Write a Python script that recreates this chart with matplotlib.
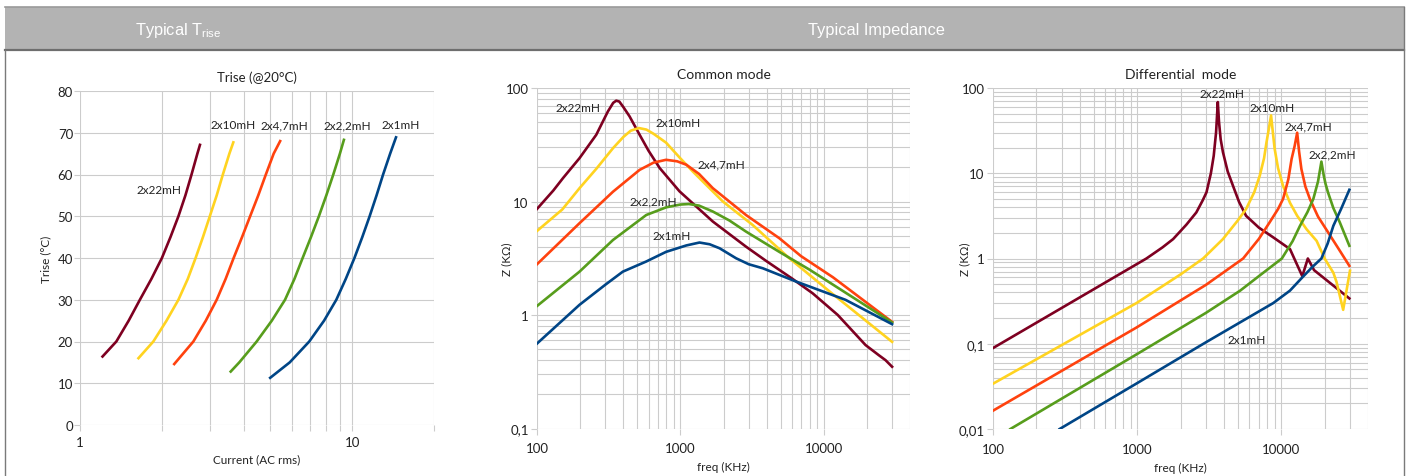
import matplotlib
matplotlib.use("Agg")
import matplotlib.pyplot as plt
from matplotlib import font_manager
from matplotlib.patches import Rectangle
from matplotlib.lines import Line2D
from matplotlib.ticker import FixedLocator, NullFormatter

W, H = 1406, 477

avail = {f.name for f in font_manager.fontManager.ttflist}
def pick(names):
    for n in names:
        if n in avail:
            return n
    return "DejaVu Sans"
BODY = pick(["Lato", "Open Sans", "Noto Sans", "DejaVu Sans"])
if "Liberation Sans Narrow" in avail:
    HEAD, HEAD_SIZE = "Liberation Sans Narrow", 13.5
else:
    HEAD, HEAD_SIZE = pick(["Liberation Sans", "Roboto", "DejaVu Sans"]), 11.8
plt.rcParams['font.family'] = [BODY, 'DejaVu Sans']

# ---------------- data ----------------
series_names = ["2x22mH", "2x10mH", "2x4,7mH", "2x2,2mH", "2x1mH"]
colors = ["#7e0021", "#ffd320", "#ff420e", "#579d1c", "#004586"]

# Trise (°C) vs current (A rms)
trise_i_22 = [1.21, 1.36, 1.51, 1.66, 1.83, 2.0, 2.15, 2.30, 2.44, 2.57, 2.70, 2.76]
trise_t_22 = [16.4, 20, 25, 30, 35, 40, 45, 50, 55, 60, 65, 67.1]
trise_i_10 = [1.64, 1.86, 2.08, 2.30, 2.49, 2.66, 2.83, 3.0, 3.18, 3.35, 3.54, 3.66]
trise_t_10 = [16.0, 20, 25, 30, 35, 40, 45, 50, 55, 60, 65, 67.7]
trise_i_47 = [2.22, 2.61, 2.90, 3.18, 3.43, 3.67, 3.94, 4.22, 4.52, 4.82, 5.15, 5.44]
trise_t_47 = [14.6, 20, 25, 30, 35, 40, 45, 50, 55, 60, 65, 68.0]
trise_i_22b = [3.58, 3.85, 4.46, 5.07, 5.67, 6.14, 6.58, 7.06, 7.55, 8.04, 8.53, 9.02, 9.33]
trise_t_22b = [12.8, 15, 20, 25, 30, 35, 40, 45, 50, 55, 60, 65, 68.3]
trise_i_1 = [5.0, 5.9, 6.96, 7.89, 8.75, 9.48, 10.2, 10.9, 11.6, 12.3, 13.0, 13.8, 14.5]
trise_t_1 = [11.3, 15, 20, 25, 30, 35, 40, 45, 50, 55, 60, 65, 68.9]
trise_label_x = [1.95, 3.64, 5.63, 9.6, 15.1]
trise_label_y = [56.5, 71.9, 71.9, 71.9, 71.9]

# Common mode impedance (freq kHz, Z kOhm)
cm_f_22 = [100, 130, 152, 198, 259, 312, 340, 357, 375, 400, 442, 520, 600, 718, 986, 1685,
           2872, 3960, 6000, 8390, 12540, 19570, 24200, 27000, 30000]
cm_z_22 = [8.6, 12.5, 16.1, 24.1, 38.7, 62, 74, 77.3, 76, 68, 56.3, 38.7, 28, 19.7, 12.3, 6.66,
           4.0, 3.0, 2.1, 1.55, 1.0, 0.544, 0.443, 0.40, 0.35]
cm_f_10 = [100, 150, 198, 260, 339, 400, 450, 513, 580, 650, 795, 1000, 1220, 1980, 3200, 5760,
           11000, 30000]
cm_z_10 = [5.5, 8.5, 13.1, 19.5, 29.5, 37, 42, 44.4, 43, 39.5, 33, 24, 18.4, 10.0, 6.2, 3.16,
           1.61, 0.58]
cm_f_47 = [100, 198, 339, 520, 650, 795, 950, 1100, 1350, 1685, 2872, 4900, 6950, 11600, 30000]
cm_z_47 = [2.8, 6.44, 12.2, 19.0, 22.0, 23.3, 22.6, 21.1, 17.5, 13.1, 7.6, 4.75, 3.3, 2.15, 0.87]
cm_f_22b = [100, 198, 339, 578, 800, 1000, 1146, 1350, 1685, 2200, 2872, 4900, 8000, 30000]
cm_z_22b = [1.2, 2.41, 4.58, 7.6, 8.9, 9.4, 9.5, 9.2, 8.16, 6.8, 5.43, 3.6, 2.5, 0.86]
cm_f_1 = [100, 198, 300, 397, 578, 795, 1100, 1360, 1600, 1880, 2450, 3000, 3760, 6425, 14200, 30000]
cm_z_1 = [0.56, 1.23, 1.85, 2.41, 2.96, 3.6, 4.1, 4.35, 4.2, 3.87, 3.16, 2.8, 2.58, 1.97, 1.36, 0.83]
cm_label_x = [193, 961, 1930, 643, 873]
cm_label_y = [68, 49.2, 21.4, 10.1, 4.98]

# Differential mode impedance
dm_f_22 = [100, 1160, 1500, 1778, 2200, 2575, 2850, 3030, 3250, 3400, 3530, 3630, 3700, 3800,
           3940, 4250, 4630, 5100, 5700, 7000, 8800, 11500, 14000, 15300, 16900, 29700]
dm_z_22 = [0.089, 1.0, 1.35, 1.69, 2.5, 3.47, 4.8, 5.98, 10, 16, 30, 68.4, 40, 25,
           17.7, 10.5, 7.1, 4.6, 3.17, 2.3, 1.77, 1.29, 0.62, 1.0, 0.73, 0.34]
dm_f_10 = [100, 990, 2000, 2870, 3940, 5000, 5700, 6500, 7100, 7600, 7900, 8200, 8500, 8750,
           9000, 9500, 10300, 11500, 12900, 15000, 17600, 20000, 23000, 24200, 26900, 30000]
dm_z_10 = [0.034, 0.30, 0.65, 1.0, 1.69, 2.8, 3.8, 6.0, 9.4, 15, 23, 33, 47.7, 30,
           19.4, 11.5, 7.1, 4.5, 3.17, 2.2, 1.61, 1.0, 0.68, 0.53, 0.25, 0.72]
dm_f_47 = [100, 990, 3000, 5440, 7000, 8300, 9500, 10300, 11200, 11800, 12400, 12900, 13300,
           13800, 14700, 15800, 18000, 20500, 25000, 29700]
dm_z_47 = [0.0164, 0.155, 0.49, 1.0, 1.7, 2.65, 3.8, 5.0, 8.5, 14.7, 21, 29.9, 18,
           11.2, 7.0, 5.0, 3.1, 2.2, 1.3, 0.82]
dm_f_22b = [132, 990, 3000, 5190, 7500, 10100, 12000, 13500, 15200, 16700, 18000, 19000, 19700,
            20300, 21100, 23000, 25500, 29700]
dm_z_22b = [0.01, 0.075, 0.23, 0.42, 0.68, 1.0, 1.6, 2.42, 3.5, 5.0, 8.0, 13.7, 9.5,
            7.5, 5.98, 3.9, 2.65, 1.41]
dm_f_1 = [290, 1000, 3000, 8800, 11500, 14000, 16500, 19000, 21000, 23000, 26000, 29700]
dm_z_1 = [0.01, 0.0345, 0.104, 0.30, 0.42, 0.6, 0.8, 1.0, 1.5, 2.42, 3.8, 6.4]
dm_label_x = [3870, 8700, 15500, 22700, 5760]
dm_label_y = [85.6, 59.7, 36.3, 16.9, 0.112]

# ---------------- figure ----------------
fig = plt.figure(figsize=(W / 100, H / 100), dpi=100)
fig.patch.set_facecolor("white")

def rect(x0, y0, x1, y1):
    return [x0 / W, 1 - y1 / H, (x1 - x0) / W, (y1 - y0) / H]

# header band and frame
fig.patches.append(Rectangle((5 / W, 1 - 50.5 / H), (1404 - 5) / W, (50.5 - 8) / H,
                             transform=fig.transFigure, facecolor="#b3b3b3",
                             edgecolor="none", zorder=0))
fig.lines.append(Line2D([5 / W, 1404 / W], [1 - 8 / H, 1 - 8 / H], transform=fig.transFigure,
                        color="#9a9a9a", lw=1.2))
fig.lines.append(Line2D([5 / W, 1404 / W], [1 - 50.5 / H, 1 - 50.5 / H], transform=fig.transFigure,
                        color="#6e6e6e", lw=1.6))
fig.lines.append(Line2D([5 / W, 5 / W], [0, 1 - 50.5 / H], transform=fig.transFigure,
                        color="#7a7a7a", lw=1.0))
fig.lines.append(Line2D([1404 / W, 1404 / W], [0, 1 - 8 / H], transform=fig.transFigure,
                        color="#7a7a7a", lw=1.0))

fig.text(178 / W, 1 - 31 / H, r"Typical T$_{\mathregular{rise}}$", color="white",
         fontsize=HEAD_SIZE, family=HEAD, ha="center", va="center")
fig.text(876 / W, 1 - 31 / H, "Typical Impedance", color="white",
         fontsize=HEAD_SIZE, family=HEAD, ha="center", va="center")

GRID = "#cccccc"
TXT = "#222222"
LW = 1.9
TICK = 9.5
LAB = 8.5

def style(ax):
    for s in ax.spines.values():
        s.set_visible(False)
    ax.tick_params(axis="both", which="both", length=4, width=0.8, color=GRID,
                   labelcolor=TXT, labelsize=TICK)
    ax.tick_params(axis="y", pad=1)
    ax.tick_params(axis="x", pad=4)
    ax.set_facecolor("white")

# ----- left: Trise -----
ax1 = fig.add_axes(rect(80, 92, 434, 426))
style(ax1)
ax1.set_xscale("log")
ax1.set_xlim(1, 20)
ax1.set_ylim(0, 80)
ax1.xaxis.set_major_locator(FixedLocator([1, 10]))
ax1.xaxis.set_minor_locator(FixedLocator([2, 3, 4, 5, 6, 7, 8, 9, 20]))
ax1.xaxis.set_minor_formatter(NullFormatter())
ax1.set_xticklabels(["1", "10"])
ax1.set_yticks(range(0, 81, 10))
ax1.grid(True, which="both", color=GRID, lw=0.8)
ax1.set_axisbelow(True)
trise_sets = [(trise_i_22, trise_t_22), (trise_i_10, trise_t_10), (trise_i_47, trise_t_47),
              (trise_i_22b, trise_t_22b), (trise_i_1, trise_t_1)]
for (xs, ys), c in zip(trise_sets, colors):
    ax1.plot(xs, ys, color=c, lw=LW, solid_joinstyle="round")
for name, lx, ly in zip(series_names, trise_label_x, trise_label_y):
    ax1.text(lx, ly, name, fontsize=LAB, color=TXT, ha="center", va="center")
ax1.set_title("Trise (@20°C)", fontsize=9.5, color=TXT, pad=7)
ax1.set_xlabel("Current (AC rms)", fontsize=8.5, color=TXT, labelpad=4)
ax1.set_ylabel("Trise (°C)", fontsize=8.5, color=TXT)
ax1.yaxis.set_label_coords(-0.082, 0.5)

def logstyle(ax, ymin, ymax, ylabels, ylab_x):
    style(ax)
    ax.set_xscale("log")
    ax.set_yscale("log")
    ax.set_xlim(100, 40000)
    ax.set_ylim(ymin, ymax)
    ax.xaxis.set_major_locator(FixedLocator([100, 1000, 10000]))
    ax.set_xticklabels(["100", "1000", "10000"])
    xm = [m * d for d in (100, 1000, 10000) for m in range(2, 10) if m * d <= 40000]
    ax.xaxis.set_minor_locator(FixedLocator(xm))
    ax.xaxis.set_minor_formatter(NullFormatter())
    majors = [v for v, _ in ylabels]
    ax.yaxis.set_major_locator(FixedLocator(majors))
    ax.set_yticklabels([t for _, t in ylabels])
    ym = [m * d for d in majors[:-1] for m in range(2, 10)]
    ax.yaxis.set_minor_locator(FixedLocator(ym))
    ax.yaxis.set_minor_formatter(NullFormatter())
    ax.tick_params(axis="both", which="minor", length=0)
    ax.tick_params(axis="x", which="major", pad=6)
    ax.tick_params(axis="y", which="major", pad=2)
    ax.grid(True, which="both", color=GRID, lw=0.8)
    ax.set_axisbelow(True)
    ax.set_xlabel("freq (KHz)", fontsize=8.5, color=TXT, labelpad=5)
    ax.set_ylabel("Z (KΩ)", fontsize=8.5, color=TXT)
    ax.yaxis.set_label_coords(ylab_x, 0.5)

# ----- middle: common mode -----
ax2 = fig.add_axes(rect(537, 89, 910, 429.5))
logstyle(ax2, 0.1, 100, [(0.1, "0,1"), (1, "1"), (10, "10"), (100, "100")], -0.067)
cm_sets = [(cm_f_22, cm_z_22), (cm_f_10, cm_z_10), (cm_f_47, cm_z_47),
           (cm_f_22b, cm_z_22b), (cm_f_1, cm_z_1)]
for (xs, ys), c in zip(cm_sets, colors):
    ax2.plot(xs, ys, color=c, lw=LW, solid_joinstyle="round")
for name, lx, ly in zip(series_names, cm_label_x, cm_label_y):
    ax2.text(lx, ly, name, fontsize=LAB, color=TXT, ha="center", va="center")
ax2.set_title("Common mode", fontsize=10, color=TXT, pad=7)

# ----- right: differential mode -----
ax3 = fig.add_axes(rect(993, 89, 1368, 430))
logstyle(ax3, 0.01, 100, [(0.01, "0,01"), (0.1, "0,1"), (1, "1"), (10, "10"), (100, "100")], -0.061)
dm_sets = [(dm_f_22, dm_z_22), (dm_f_10, dm_z_10), (dm_f_47, dm_z_47),
           (dm_f_22b, dm_z_22b), (dm_f_1, dm_z_1)]
for (xs, ys), c in zip(dm_sets, colors):
    ax3.plot(xs, ys, color=c, lw=LW, solid_joinstyle="round")
for name, lx, ly in zip(series_names, dm_label_x, dm_label_y):
    ax3.text(lx, ly, name, fontsize=LAB, color=TXT, ha="center", va="center")
ax3.set_title("Differential  mode", fontsize=10, color=TXT, pad=7)

fig.savefig("out.png", dpi=100, facecolor="white")
